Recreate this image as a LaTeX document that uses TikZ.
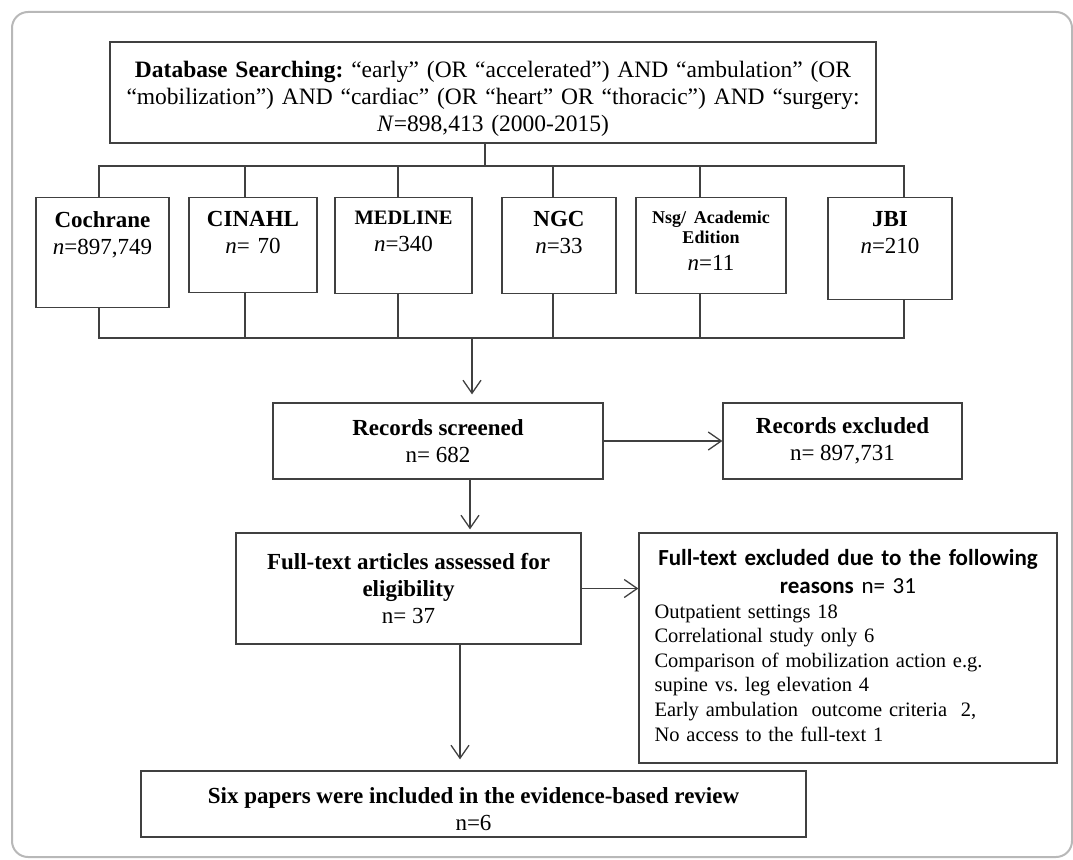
\documentclass[tikz,border=0pt]{standalone}
\usepackage{fontspec}
\setmainfont{Liberation Serif}
\newfontfamily\calib{Carlito}
\usepackage{tikz}
\usetikzlibrary{arrows.meta}
\frenchspacing

\begin{document}
\begin{tikzpicture}[x=1pt,y=-1pt]
\tikzset{
  box/.style={draw=black!75, line width=1.3pt, rectangle, inner sep=0pt},
  txt/.style={align=center, inner sep=0pt, font=\fontsize{23}{27}\selectfont},
  link/.style={draw=black!75, line width=1.3pt},
  arr/.style={link, -{Straight Barb[length=13pt,width=18pt,line width=1.3pt]}}
}
\useasboundingbox (0,0) rectangle (1073,859);
\draw[black!28, line width=2pt, rounded corners=16pt] (12,12) rectangle (1072,857);

% search
\node[box, minimum width=766, minimum height=101] (db) at (493,92.5) {};
\node[txt, font=\fontsize{23.5}{27}\selectfont, text width=750] (db-t) at (493,99)
  {\textbf{Database Searching:} “early” (OR “accelerated”) AND “ambulation” (OR\\
   “mobilization”) AND “cardiac” (OR “heart” OR “thoracic”) AND “surgery:\\
   \emph{N}=898,413 (2000-2015)};
\coordinate (tbus) at (485,166);
\coordinate (lbus) at (472,338);
\draw[link] ([xshift=-8pt]db.south) -- (tbus);

% databases
\foreach \n/\cx/\w/\h/\dx/\lbl in {
  coch/102.5/133/110/-3.5/{\textbf{Cochrane}\\\emph{n}=897,749},
  cin/253/128/95/-8/{\textbf{CINAHL}\\\emph{n}= 70},
  med/403.5/137/96/-5.5/{\fontsize{20.5}{27}\selectfont\textbf{MEDLINE}\\\fontsize{23}{27}\selectfont\emph{n}=340},
  ngc/559/114/96/-6/{\textbf{NGC}\\\emph{n}=33},
  nsg/711/150/96/-11/{\fontsize{18}{20}\selectfont\textbf{Nsg/ Academic}\\\textbf{Edition}\endgraf\fontsize{23}{25}\selectfont\emph{n}=11},
  jbi/890/124/102/14/{\textbf{JBI}\\\emph{n}=210}
}{
  \node[box, anchor=north, minimum width=\w, minimum height=\h] (\n) at (\cx,197) {};
  \node[txt, anchor=north, text width=124] (\n-t) at ([yshift=-14pt]\n.north) {\lbl};
  \draw[link] ([xshift=\dx pt]\n.north) |- (tbus);
  \draw[link] ([xshift=\dx pt]\n.south) |- (lbus);
}

% screening
\node[box, txt, minimum width=330, minimum height=76] (scr) at (438,441)
  {\textbf{Records screened}\\n= 682};
\node[box, txt, minimum width=239, minimum height=76] (exc) at (842.5,441)
  {\textbf{Records excluded}\\n= 897,731};
\draw[arr] (lbus) -- ([yshift=8pt]scr.north -| lbus);
\draw[arr, line width=2pt] (scr.east) -- (exc.west);

% eligibility
\node[box, txt, minimum width=345, minimum height=111] (full) at (408.5,588.5)
  {\textbf{Full-text articles assessed for}\\\textbf{eligibility}\\n= 37};
\node[box, minimum width=418, minimum height=230] (exc2) at (848,648) {};
\node[anchor=north, align=center, text width=400, inner sep=0pt,
  font=\calib\bfseries\fontsize{23}{28}\selectfont] (exc2-h) at ([yshift=-17pt]exc2.north)
  {Full-text excluded due to the following\\reasons \mdseries n= 31};
\node[anchor=north west, align=left, text width=395, inner sep=0pt,
  font=\fontsize{20.5}{24.6}\selectfont] (exc2-l) at ([xshift=16pt,yshift=-72pt]exc2.north west)
  {Outpatient settings 18\\
   Correlational study only 6\\
   Comparison of mobilization action e.g.\\
   supine vs. leg elevation 4\\
   Early ambulation\ \ outcome criteria\ \ 2,\\
   No access to the full-text 1};
\coordinate (s1) at ([xshift=32pt]scr.south);
\draw[arr] (s1) -- ([yshift=3pt]s1 |- full.north);
\draw[arr] (full.east) -- (full.east -| exc2.west);

% included
\node[box, minimum width=665, minimum height=66] (fin) at (473.5,804) {};
\node[txt] (fin-t) at (473.5,809)
  {\textbf{Six papers were included in the evidence-based review}\\n=6};
\coordinate (f1) at ([xshift=51.5pt]full.south);
\draw[arr] (f1) -- ([yshift=11pt]f1 |- fin.north);
\end{tikzpicture}
\end{document}
